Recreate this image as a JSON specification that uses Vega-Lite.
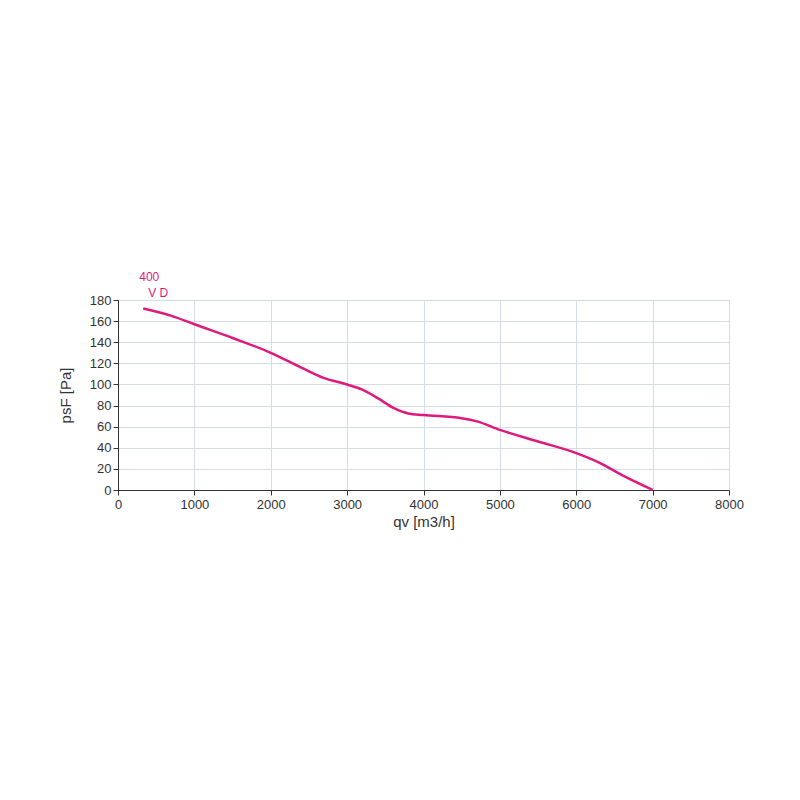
{
  "$schema": "https://vega.github.io/schema/vega-lite/v6.json",
  "autosize": "none",
  "width": 611,
  "height": 190,
  "padding": {"left": 118, "top": 300, "right": 71, "bottom": 310},
  "background": "white",
  "config": {
    "font": "Liberation Sans",
    "view": {"stroke": "#d5dde8", "strokeWidth": 1},
    "axis": {
      "gridColor": "#d5dde8",
      "gridOpacity": 1,
      "domainColor": "#333333",
      "tickColor": "#333333",
      "labelColor": "#333333",
      "titleColor": "#333333",
      "labelFontSize": 13,
      "titleFontSize": 15,
      "titleFontWeight": "normal",
      "labelFont": "Liberation Sans",
      "titleFont": "Liberation Sans",
      "labelOverlap": false,
      "labelFlush": false
    }
  },
  "encoding": {
    "x": {
      "field": "qv", "type": "quantitative",
      "scale": {"domain": [0, 8000], "nice": false},
      "axis": {"values": [0,1000,2000,3000,4000,5000,6000,7000,8000], "format": "d", "title": "qv [m3/h]", "titlePadding": 3, "labelPadding": 3}
    },
    "y": {
      "field": "psF", "type": "quantitative",
      "scale": {"domain": [0, 180], "nice": false},
      "axis": {"values": [0,20,40,60,80,100,120,140,160,180], "format": "d", "title": "psF [Pa]", "titlePadding": 16, "labelPadding": 2}
    }
  },
  "layer": [
    {
      "data": {
        "values": [
          {"qv": 330, "psF": 172},
          {"qv": 700, "psF": 165},
          {"qv": 1000, "psF": 157},
          {"qv": 1500, "psF": 144},
          {"qv": 2000, "psF": 130},
          {"qv": 2400, "psF": 116},
          {"qv": 2700, "psF": 106},
          {"qv": 3000, "psF": 100},
          {"qv": 3200, "psF": 95},
          {"qv": 3400, "psF": 87},
          {"qv": 3600, "psF": 78},
          {"qv": 3800, "psF": 72.5},
          {"qv": 4000, "psF": 71},
          {"qv": 4500, "psF": 68},
          {"qv": 4700, "psF": 65},
          {"qv": 5000, "psF": 57},
          {"qv": 5500, "psF": 46},
          {"qv": 6000, "psF": 35},
          {"qv": 6300, "psF": 26},
          {"qv": 6600, "psF": 14},
          {"qv": 7000, "psF": 0}
        ]
      },
      "mark": {"type": "line", "color": "#e0197d", "strokeWidth": 2.5, "interpolate": "monotone"}
    },
    {
      "data": {"values": [{"qv": 330, "psF": 172, "label": "400"}]},
      "mark": {"type": "text", "color": "#e0197d", "fontSize": 12, "align": "left", "baseline": "middle", "dx": -4, "dy": -31},
      "encoding": {"text": {"field": "label"}}
    },
    {
      "data": {"values": [{"qv": 330, "psF": 172, "label": "V D"}]},
      "mark": {"type": "text", "color": "#e0197d", "fontSize": 12, "align": "left", "baseline": "middle", "dx": 5, "dy": -15},
      "encoding": {"text": {"field": "label"}}
    }
  ]
}
